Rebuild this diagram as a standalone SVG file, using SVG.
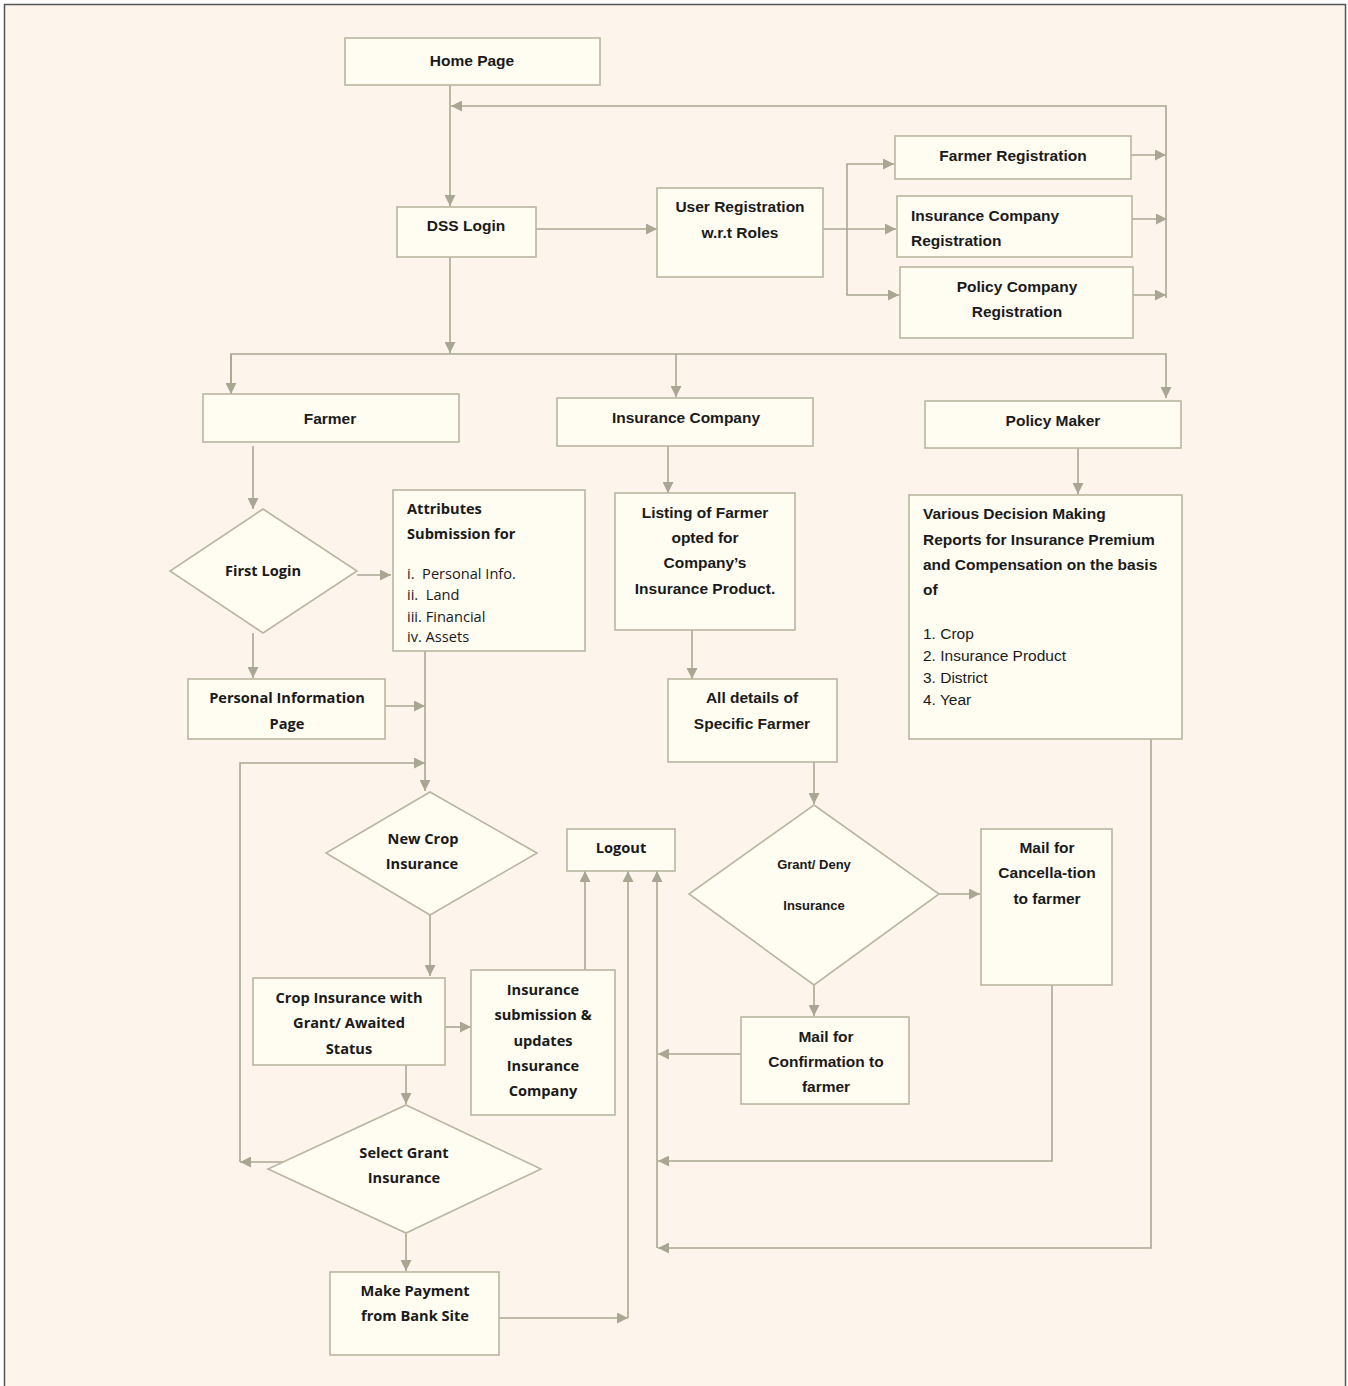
<svg xmlns="http://www.w3.org/2000/svg" width="1348" height="1386" viewBox="0 0 1348 1386">
<defs>
<style>
.bg{fill:#FDF5EB;stroke:#555;stroke-width:1.5}
.n{fill:#FFFCF2;stroke:#B9B6A2;stroke-width:1.6}
.c{fill:none;stroke:#A9A794;stroke-width:1.6}
.t{font-family:"Liberation Sans",Arial,sans-serif;font-weight:bold;font-size:15.5px;fill:#1A1A1A;text-anchor:middle}
.o{font-family:"Open Sans","Liberation Sans",sans-serif;font-weight:700;font-size:14.6px;fill:#1A1A1A;text-anchor:middle}
.l{text-anchor:start}
.r{font-weight:normal}
.p{white-space:pre}
</style>
<marker id="a" viewBox="0 0 10 10" refX="10" refY="5" markerWidth="12" markerHeight="11" markerUnits="userSpaceOnUse" orient="auto">
<path d="M0,0 L10,5 L0,10 Z" fill="#A9A794"/>
</marker>
</defs>
<rect class="bg" x="4.5" y="4.5" width="1341" height="1400"/>

<g id="connectors">
<path class="c" d="M450,85 V206" marker-end="url(#a)"/>
<path class="c" d="M1166,298 V106 H451" marker-end="url(#a)"/>
<path class="c" d="M536,229 H657" marker-end="url(#a)"/>
<path class="c" d="M823,229 H896" marker-end="url(#a)"/>
<path class="c" d="M847,229 V164 H894" marker-end="url(#a)"/>
<path class="c" d="M847,229 V295 H899" marker-end="url(#a)"/>
<path class="c" d="M1131,155 H1166" marker-end="url(#a)"/>
<path class="c" d="M1132,219 H1167" marker-end="url(#a)"/>
<path class="c" d="M1133,295 H1166" marker-end="url(#a)"/>
<path class="c" d="M450,257 V353" marker-end="url(#a)"/>
<path class="c" d="M231,394 V354 H1166 V398" marker-end="url(#a)"/>
<path class="c" d="M231,354 V394" marker-end="url(#a)"/>
<path class="c" d="M676,354 V397" marker-end="url(#a)"/>
<path class="c" d="M253,446 V509" marker-end="url(#a)"/>
<path class="c" d="M357,575 H391" marker-end="url(#a)"/>
<path class="c" d="M253,633 V678" marker-end="url(#a)"/>
<path class="c" d="M385,706 H425" marker-end="url(#a)"/>
<path class="c" d="M425,651 V791" marker-end="url(#a)"/>
<path class="c" d="M240,1162 V763 H425" marker-end="url(#a)"/>
<path class="c" d="M283,1162 H240" marker-end="url(#a)"/>
<path class="c" d="M430,915 V976" marker-end="url(#a)"/>
<path class="c" d="M445,1027 H471" marker-end="url(#a)"/>
<path class="c" d="M585,970 V871" marker-end="url(#a)"/>
<path class="c" d="M406,1065 V1104" marker-end="url(#a)"/>
<path class="c" d="M406,1233 V1271" marker-end="url(#a)"/>
<path class="c" d="M499,1318 H628" marker-end="url(#a)"/>
<path class="c" d="M628,1318 V871" marker-end="url(#a)"/>
<path class="c" d="M657,1248 V871" marker-end="url(#a)"/>
<path class="c" d="M668,446 V493" marker-end="url(#a)"/>
<path class="c" d="M692,630 V679" marker-end="url(#a)"/>
<path class="c" d="M814,762 V804" marker-end="url(#a)"/>
<path class="c" d="M939,894 H980" marker-end="url(#a)"/>
<path class="c" d="M814,985 V1016" marker-end="url(#a)"/>
<path class="c" d="M741,1054 H658" marker-end="url(#a)"/>
<path class="c" d="M1052,985 V1161 H658" marker-end="url(#a)"/>
<path class="c" d="M1078,448 V494" marker-end="url(#a)"/>
<path class="c" d="M1151,739 V1248 H658" marker-end="url(#a)"/>
</g>

<g id="home-page"><rect class="n" x="345" y="38" width="255" height="47"/><text class="t" x="472" y="66">Home Page</text></g>
<g id="dss-login"><rect class="n" x="397" y="207" width="139" height="50"/><text class="t" x="466" y="231">DSS Login</text></g>
<g id="user-registration"><rect class="n" x="657" y="188" width="166" height="89"/><text class="t" x="740" y="212">User Registration</text><text class="t" x="740" y="238">w.r.t Roles</text></g>
<g id="farmer-registration"><rect class="n" x="895" y="136" width="236" height="43"/><text class="t" x="1013" y="161">Farmer Registration</text></g>
<g id="insurance-company-registration"><rect class="n" x="897" y="196" width="235" height="61"/><text class="t l" x="911" y="221">Insurance Company</text><text class="t l" x="911" y="246">Registration</text></g>
<g id="policy-company-registration"><rect class="n" x="900" y="267" width="233" height="71"/><text class="t" x="1017" y="292">Policy Company</text><text class="t" x="1017" y="317">Registration</text></g>
<g id="farmer"><rect class="n" x="203" y="394" width="256" height="48"/><text class="t" x="330" y="424">Farmer</text></g>
<g id="insurance-company"><rect class="n" x="557" y="398" width="256" height="48"/><text class="t" x="686" y="423">Insurance Company</text></g>
<g id="policy-maker"><rect class="n" x="925" y="401" width="256" height="47"/><text class="t" x="1053" y="426">Policy Maker</text></g>
<g id="first-login"><polygon class="n" points="263,509 357,571 263,633 170,571"/><text class="o" x="263" y="576">First Login</text></g>
<g id="attributes-submission"><rect class="n" x="393" y="490" width="192" height="161"/>
<text class="o l" x="407" y="514">Attributes</text><text class="o l" x="407" y="539">Submission for</text>
<text class="o l r p" x="407" y="579" xml:space="preserve">i.  Personal Info.</text><text class="o l r p" x="407" y="600" xml:space="preserve">ii.  Land</text><text class="o l r p" x="407" y="622">iii. Financial</text><text class="o l r p" x="407" y="642">iv. Assets</text></g>
<g id="personal-information-page"><rect class="n" x="188" y="679" width="197" height="60"/><text class="o" x="287" y="703">Personal Information</text><text class="o" x="287" y="729">Page</text></g>
<g id="new-crop-insurance"><polygon class="n" points="430,792 537,853 430,915 326,853"/><text class="o" x="423" y="844">New Crop</text><text class="o" x="422" y="869">Insurance</text></g>
<g id="logout"><rect class="n" x="567" y="829" width="108" height="42"/><text class="o" x="621" y="853">Logout</text></g>
<g id="crop-insurance-status"><rect class="n" x="253" y="978" width="192" height="87"/><text class="o" x="349" y="1003">Crop Insurance with</text><text class="o" x="349" y="1028">Grant/ Awaited</text><text class="o" x="349" y="1054">Status</text></g>
<g id="insurance-submission"><rect class="n" x="471" y="970" width="144" height="145"/><text class="o" x="543" y="995">Insurance</text><text class="o" x="543" y="1020">submission &amp;</text><text class="o" x="543" y="1046">updates</text><text class="o" x="543" y="1071">Insurance</text><text class="o" x="543" y="1096">Company</text></g>
<g id="select-grant-insurance"><polygon class="n" points="406,1105 541,1169 406,1233 268,1169"/><text class="o" x="404" y="1158">Select Grant</text><text class="o" x="404" y="1183">Insurance</text></g>
<g id="make-payment"><rect class="n" x="330" y="1272" width="169" height="83"/><text class="o" x="415" y="1296">Make Payment</text><text class="o" x="415" y="1321">from Bank Site</text></g>
<g id="listing-of-farmer"><rect class="n" x="615" y="493" width="180" height="137"/><text class="t" x="705" y="518">Listing of Farmer</text><text class="t" x="705" y="543">opted for</text><text class="t" x="705" y="568">Company’s</text><text class="t" x="705" y="594">Insurance Product.</text></g>
<g id="all-details"><rect class="n" x="668" y="679" width="169" height="83"/><text class="t" x="752" y="703">All details of</text><text class="t" x="752" y="729">Specific Farmer</text></g>
<g id="grant-deny"><polygon class="n" points="814,805 939,894 814,985 689,894"/><text class="t" x="814" y="869" style="font-size:13px">Grant/ Deny</text><text class="t" x="814" y="910" style="font-size:13px">Insurance</text></g>
<g id="mail-cancellation"><rect class="n" x="981" y="829" width="131" height="156"/><text class="t" x="1047" y="853">Mail for</text><text class="t" x="1047" y="878">Cancella-tion</text><text class="t" x="1047" y="904">to farmer</text></g>
<g id="mail-confirmation"><rect class="n" x="741" y="1017" width="168" height="87"/><text class="t" x="826" y="1042">Mail for</text><text class="t" x="826" y="1067">Confirmation to</text><text class="t" x="826" y="1092">farmer</text></g>
<g id="decision-reports"><rect class="n" x="909" y="495" width="273" height="244"/>
<text class="t l" x="923" y="519">Various Decision Making</text><text class="t l" x="923" y="545">Reports for Insurance Premium</text><text class="t l" x="923" y="570">and Compensation on the basis</text><text class="t l" x="923" y="595">of</text>
<text class="t l r" x="923" y="639">1. Crop</text><text class="t l r" x="923" y="661">2. Insurance Product</text><text class="t l r" x="923" y="683">3. District</text><text class="t l r" x="923" y="705">4. Year</text></g>
</svg>
